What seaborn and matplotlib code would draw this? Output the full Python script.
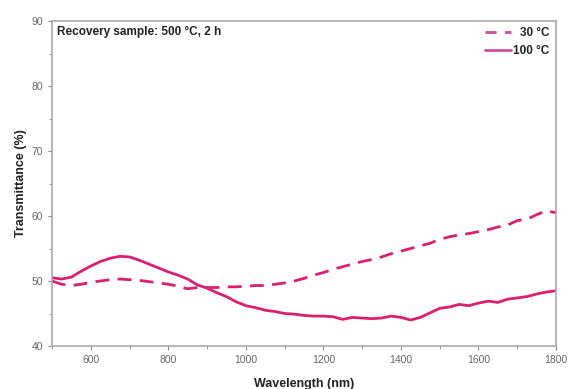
import numpy as np
import pandas as pd
import matplotlib
matplotlib.use("Agg")
import matplotlib.pyplot as plt
import seaborn as sns
from matplotlib.lines import Line2D

wavelength = list(range(500, 1801, 25))
t_100 = [50.5, 50.3, 50.6, 51.5, 52.3, 53.0, 53.5, 53.8, 53.7, 53.2, 52.6, 52.0, 51.4,
         50.9, 50.3, 49.4, 48.9, 48.2, 47.6, 46.8, 46.2, 45.9, 45.5, 45.3, 45.0, 44.9,
         44.7, 44.6, 44.6, 44.5, 44.1, 44.4, 44.3, 44.2, 44.3, 44.6, 44.4, 44.0, 44.4,
         45.1, 45.8, 46.0, 46.4, 46.2, 46.6, 46.9, 46.7, 47.2, 47.4, 47.6, 48.0, 48.3, 48.5]
t_30 = [50.0, 49.5, 49.3, 49.5, 49.8, 50.0, 50.2, 50.3, 50.2, 50.1, 49.9, 49.7, 49.5,
        49.2, 48.8, 49.0, 49.0, 49.0, 49.1, 49.1, 49.2, 49.3, 49.3, 49.5, 49.7, 50.0,
        50.4, 50.9, 51.3, 51.8, 52.2, 52.6, 53.0, 53.3, 53.7, 54.2, 54.6, 55.0, 55.4,
        55.8, 56.4, 56.8, 57.1, 57.3, 57.6, 57.9, 58.3, 58.6, 59.3, 59.5, 60.2, 60.8, 60.5]
labels = ["30 \u00b0C", "100 \u00b0C"]
title_text = "Recovery sample: 500 \u00b0C, 2 h"

df = pd.DataFrame({
    "Wavelength": wavelength * 2,
    "T": t_30 + t_100,
    "Sample": [labels[0]] * len(t_30) + [labels[1]] * len(t_100),
})

sns.set_theme(style="ticks")
plt.rcParams["font.family"] = ["Liberation Sans", "DejaVu Sans"]

fig = plt.figure(figsize=(5.72, 3.89), dpi=100)
ax = fig.add_axes([52 / 572, 1 - 346 / 389, (556 - 52) / 572, (346 - 21) / 389])

color = "#dc1f6e"
sns.lineplot(data=df, x="Wavelength", y="T", hue="Sample", style="Sample",
             palette={labels[0]: color, labels[1]: color},
             dashes={labels[0]: (5, 3), labels[1]: ""},
             linewidth=2.0, ax=ax, legend=False)

ax.set_xlim(500, 1800)
ax.set_ylim(40, 90)
ax.set_xticks([600, 800, 1000, 1200, 1400, 1600, 1800])
ax.set_yticks([40, 50, 60, 70, 80, 90])
ax.set_xticks(np.arange(500, 1801, 100), minor=True)
ax.set_yticks(np.arange(40, 91, 5), minor=True)
ax.tick_params(axis="both", which="major", labelsize=7.5, colors="#888888",
               labelcolor="#666666", length=3, width=0.8, direction="out")
ax.tick_params(axis="both", which="minor", length=2, width=0.6, colors="#888888")
for s in ax.spines.values():
    s.set_color("#aaaaaa")
    s.set_linewidth(1.2)

ax.set_xlabel("Wavelength (nm)", fontsize=9, fontweight="bold", color="#222222", labelpad=9)
ax.set_ylabel("Transmittance (%)", fontsize=9, fontweight="bold", color="#222222", labelpad=3)

ax.text(0.01, 0.985, title_text, transform=ax.transAxes, ha="left", va="top",
        fontsize=8.5, fontweight="bold", color="#222222")

handles = [Line2D([], [], color="#c8509a", lw=2, dashes=(4, 3)),
           Line2D([], [], color="#c8509a", lw=2)]
leg = ax.legend(handles, labels, loc="upper right", frameon=False,
                prop={"weight": "bold", "size": 8.5}, handlelength=2.2,
                handletextpad=0.2, borderaxespad=0.15, labelspacing=0.5)
# right-align legend labels
renderer = fig.canvas.get_renderer()
texts = leg.get_texts()
widths = [t.get_window_extent(renderer).width for t in texts]
maxw = max(widths)
for t, w in zip(texts, widths):
    t.set_position((maxw - w, 0))

fig.savefig("out.png", dpi=100)
